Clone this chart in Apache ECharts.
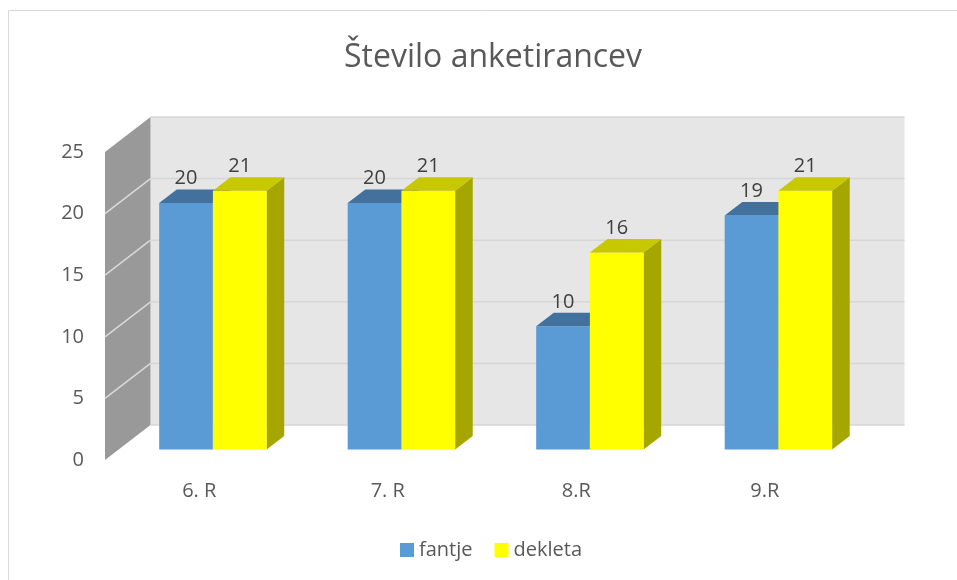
<!DOCTYPE html>
<html>
<head>
<meta charset="utf-8">
<script src="https://cdn.jsdelivr.net/npm/echarts@6/dist/echarts.min.js"></script>
<style>
  html, body { margin: 0; padding: 0; background: #fff; }
  #chart { width: 957px; height: 580px; }
</style>
</head>
<body>
<div id="chart"></div>
<script>
// podatki
var categories = ["6. R", "7. R", "8.R", "9.R"];
var fantje = [20, 20, 10, 19];
var dekleta = [21, 21, 16, 21];
var yTicks = [0, 5, 10, 15, 20, 25];

// 3d zamik (globina stene, ravnina stolpcev, globina stolpca)
var WALL_D = [45.5, -35];
var BAR_OFF = [13.65, -10.5];
var BAR_D = [17.6, -13.5];
var FONT = '"Open Sans", sans-serif';

function renderWalls(params, api) {
  var cs = params.coordSys;
  var left = cs.x, right = cs.x + cs.width;
  var y0 = api.coord([0, 0])[1];
  var yTop = api.coord([0, yTicks[yTicks.length - 1]])[1];
  var dx = WALL_D[0], dy = WALL_D[1];
  var children = [
    {
      type: "rect",
      shape: { x: left + dx, y: yTop + dy, width: right - left, height: y0 - yTop },
      style: { fill: "#E6E6E6" }
    },
    {
      type: "polygon",
      shape: { points: [[left, y0], [left, yTop], [left + dx, yTop + dy], [left + dx, y0 + dy]] },
      style: { fill: "#999999" }
    }
  ];
  yTicks.forEach(function (t) {
    var y = api.coord([0, t])[1];
    children.push({
      type: "line",
      shape: { x1: left + dx, y1: y + dy, x2: right + dx, y2: y + dy },
      style: { stroke: "#D6D6D6", lineWidth: 1.5 }
    });
    if (t > 0 && t < yTicks[yTicks.length - 1]) {
      children.push({
        type: "line",
        shape: { x1: left, y1: y, x2: left + dx, y2: y + dy },
        style: { stroke: "#D9D9D9", lineWidth: 1.5 }
      });
    }
  });
  return { type: "group", children: children };
}

function barRenderer(side, front, top, sideColor) {
  return function (params, api) {
    var idx = api.value(0), val = api.value(1);
    var base = api.coord([idx, 0]);
    var tip = api.coord([idx, val]);
    var band = api.size([1, 0])[0];
    var w = band * 0.285;
    var x0 = base[0] + (side === 0 ? -w : 0) + BAR_OFF[0];
    var x1 = x0 + w;
    var yb = base[1] + BAR_OFF[1];
    var yt = tip[1] + BAR_OFF[1];
    var dx = BAR_D[0], dy = BAR_D[1];
    return {
      type: "group",
      children: [
        {
          type: "polygon",
          shape: { points: [[x1, yb], [x1, yt], [x1 + dx, yt + dy], [x1 + dx, yb + dy]] },
          style: { fill: sideColor }
        },
        {
          type: "rect",
          shape: { x: x0, y: yt, width: w, height: yb - yt },
          style: { fill: front }
        },
        {
          type: "polygon",
          shape: { points: [[x0, yt], [x1, yt], [x1 + dx, yt + dy], [x0 + dx, yt + dy]] },
          style: { fill: top }
        },
        {
          type: "text",
          style: {
            text: String(val),
            x: (x0 + x1) / 2,
            y: yt + dy - 1,
            align: "center",
            verticalAlign: "bottom",
            fill: "#404040",
            font: "20px " + FONT
          }
        }
      ]
    };
  };
}

var chart = echarts.init(document.getElementById("chart"));
var option = {
  animation: false,
  title: {
    text: "Število anketirancev",
    left: 339,
    top: 37,
    textStyle: { fontFamily: FONT, fontSize: 32, fontWeight: "normal", color: "#595959" }
  },
  legend: {
    data: ["fantje", "dekleta"],
    left: 400,
    top: 540,
    padding: 0,
    icon: "rect",
    itemWidth: 14,
    itemHeight: 14,
    itemGap: 22,
    textStyle: { fontFamily: FONT, fontSize: 20, color: "#595959" }
  },
  graphic: [
    {
      type: "rect",
      shape: { x: 8.5, y: 10.5, width: 1000, height: 1000 },
      style: { fill: "none", stroke: "#D9D9D9", lineWidth: 1 },
      silent: true
    }
  ],
  grid: { left: 105, right: 98, top: 152, bottom: 120 },
  xAxis: {
    type: "category",
    data: categories,
    axisLine: { show: false },
    axisTick: { show: false },
    axisLabel: { margin: 21, fontFamily: FONT, fontSize: 20, color: "#595959" }
  },
  yAxis: {
    type: "value",
    min: 0,
    max: 25,
    interval: 5,
    axisLine: { show: false },
    axisTick: { show: false },
    splitLine: { show: false },
    axisLabel: { margin: 21, padding: [6, 0, 0, 0], fontFamily: FONT, fontSize: 20, color: "#595959" }
  },
  series: [
    {
      name: "walls",
      type: "custom",
      renderItem: renderWalls,
      data: [[0, 0]],
      encode: { x: 0, y: 1 },
      silent: true,
      z: 1
    },
    {
      name: "fantje",
      type: "custom",
      renderItem: barRenderer(0, "#5B9BD5", "#41719C", "#3E6E99"),
      itemStyle: { color: "#5B9BD5" },
      data: fantje.map(function (v, i) { return [i, v]; }),
      encode: { x: 0, y: 1 },
      z: 2
    },
    {
      name: "dekleta",
      type: "custom",
      renderItem: barRenderer(1, "#FFFF00", "#C8C800", "#A6A600"),
      itemStyle: { color: "#FFFF00" },
      data: dekleta.map(function (v, i) { return [i, v]; }),
      encode: { x: 0, y: 1 },
      z: 3
    }
  ]
};
chart.setOption(option);
</script>
</body>
</html>
